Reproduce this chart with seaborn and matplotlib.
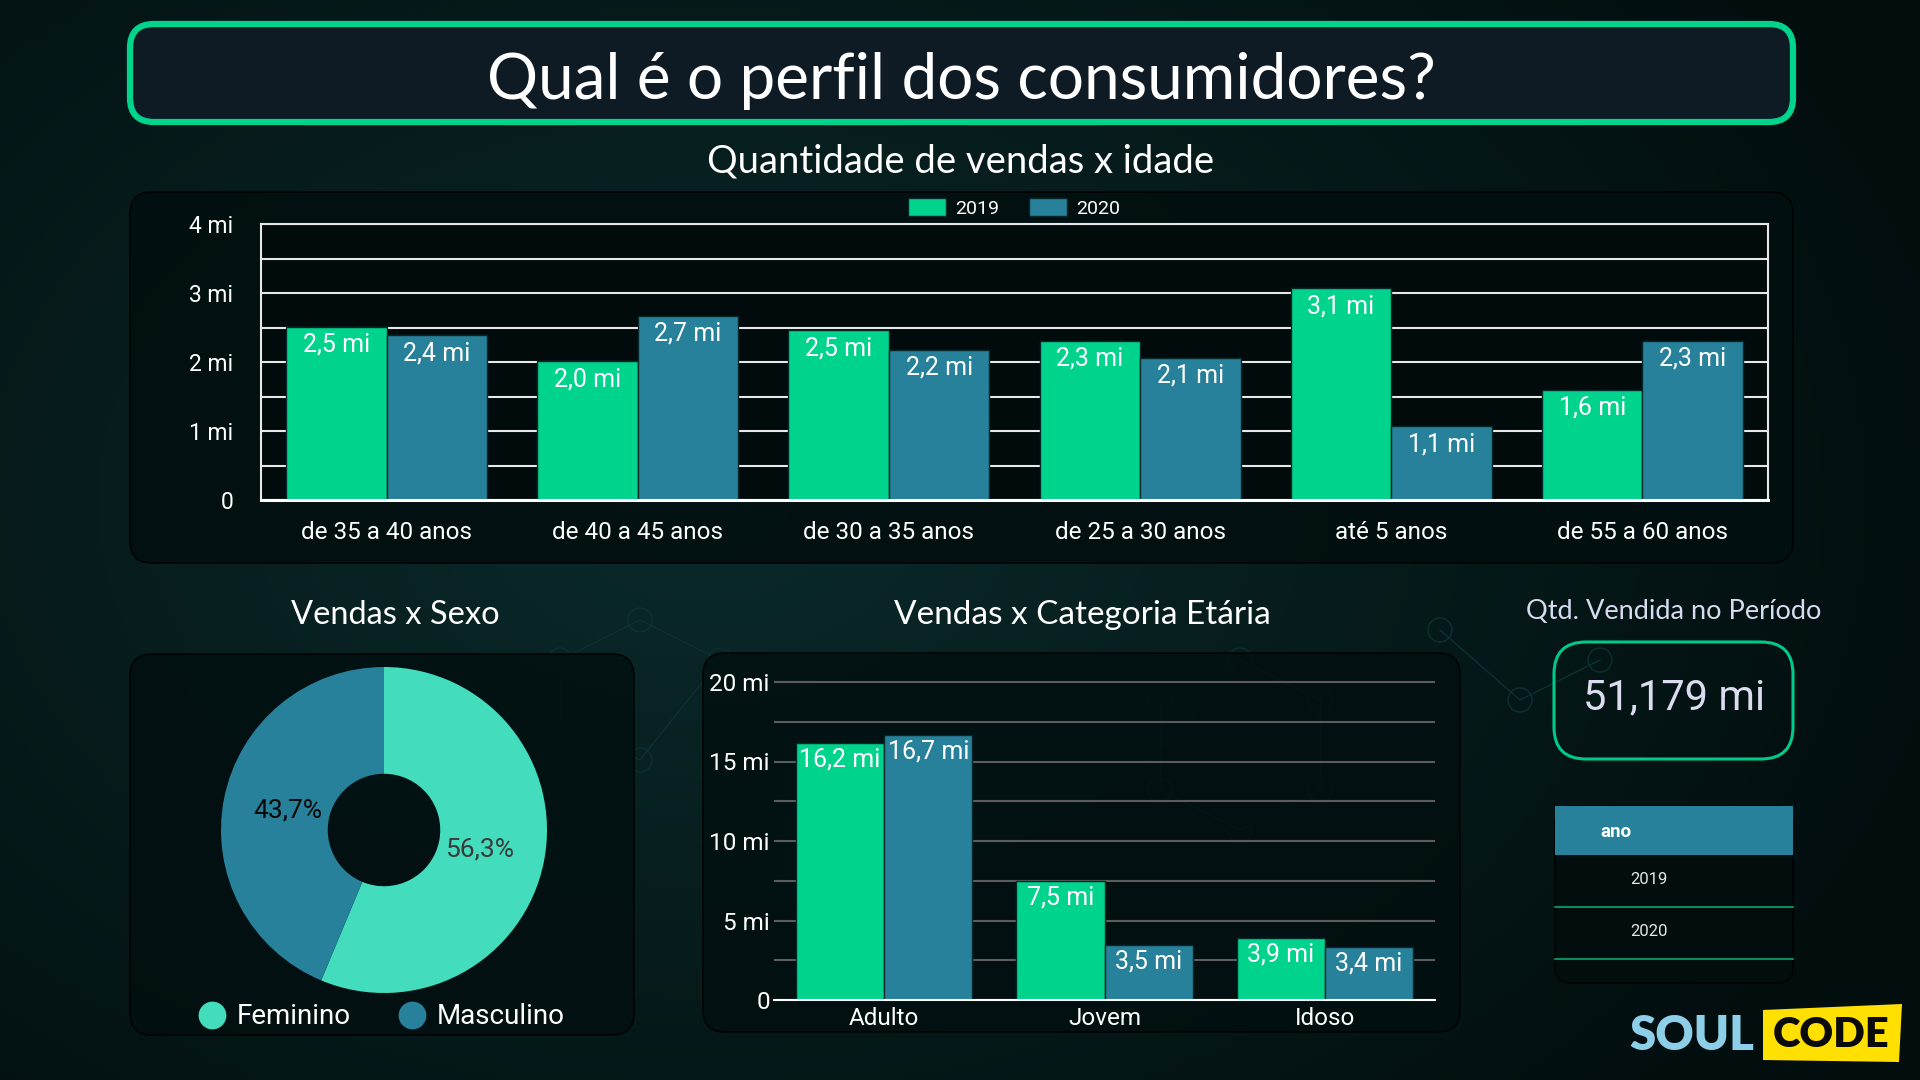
import numpy as np
import pandas as pd
import matplotlib
matplotlib.use("Agg")
import matplotlib.pyplot as plt
import seaborn as sns
from matplotlib.patches import FancyBboxPatch, Rectangle, Polygon
from matplotlib.lines import Line2D
from matplotlib.ticker import MultipleLocator, FixedLocator

# ---------------- data ----------------
anos = ["2019", "2020"]
faixas = ["de 35 a 40 anos", "de 40 a 45 anos", "de 30 a 35 anos",
          "de 25 a 30 anos", "até 5 anos", "de 55 a 60 anos"]
vendas_faixa_2019 = [2.51, 2.01, 2.46, 2.31, 3.07, 1.60]
vendas_faixa_2020 = [2.39, 2.67, 2.18, 2.06, 1.07, 2.31]
top_yticks = [0, 1, 2, 3, 4]

sexos = ["Feminino", "Masculino"]
pct_sexo = [56.3, 43.7]

categorias = ["Adulto", "Jovem", "Idoso"]
vendas_cat_2019 = [16.17, 7.51, 3.89]
vendas_cat_2020 = [16.66, 3.46, 3.36]
bottom_yticks = [0, 5, 10, 15, 20]

total_vendido = "51,179 mi"
tabela_header = "ano"
tabela_anos = ["2019", "2020"]

titulo = "Qual é o perfil dos consumidores?"
sub_top = "Quantidade de vendas x idade"
sub_pie = "Vendas x Sexo"
sub_cat = "Vendas x Categoria Etária"
sub_kpi = "Qtd. Vendida no Período"

# ---------------- style ----------------
GREEN = "#00d38b"
BLUE = "#27819b"
PIE_GREEN = "#43dcbc"
W, H = 1920, 1080

sns.set_theme(style="dark")
plt.rcParams["font.family"] = ["Roboto", "DejaVu Sans"]
plt.rcParams["axes.unicode_minus"] = False


def fmt_mi(v):
    return f"{v:.1f}".replace(".", ",") + " mi"


def fmt_tick(v):
    return "0" if v == 0 else f"{v:g} mi"


fig = plt.figure(figsize=(19.2, 10.8), dpi=100)
fig.patch.set_facecolor("#041616")

# background axes in pixel coordinates
bg = fig.add_axes([0, 0, 1, 1], zorder=-10)
bg.set_xlim(0, W)
bg.set_ylim(H, 0)
bg.axis("off")
yy, xx = np.mgrid[0:H:4, 0:W:4]
d = np.sqrt(((xx - 700) / 1300.0) ** 2 + ((yy - 500) / 900.0) ** 2)
d = np.clip(d, 0, 1)[..., None]
c_in = np.array([0x0b, 0x2a, 0x2a]) / 255.0
c_out = np.array([0x02, 0x0d, 0x0e]) / 255.0
img = c_in * (1 - d) + c_out * d
bg.imshow(img, extent=(0, W, H, 0), aspect="auto", zorder=0)

# faint network decoration
net_pts = [(560, 660), (640, 620), (720, 660), (640, 760), (560, 720),
           (1160, 700), (1240, 660), (1320, 700), (1320, 790), (1240, 830), (1160, 790),
           (1440, 630), (1520, 700), (1600, 660)]
segs = [(0, 1), (1, 2), (2, 3), (3, 4), (4, 0), (5, 6), (6, 7), (7, 8), (8, 9), (9, 10), (10, 5),
        (11, 12), (12, 13)]
for a, b in segs:
    bg.plot([net_pts[a][0], net_pts[b][0]], [net_pts[a][1], net_pts[b][1]],
            color="#0c3030", lw=1.0, zorder=1)
for p in net_pts:
    bg.add_patch(plt.Circle(p, 12, fill=False, ec="#0c3030", lw=1.0, zorder=1))


def panel(x0, y0, x1, y1, fc, ec, lw=1.0, r=20, z=2, alpha=1.0):
    bg.add_patch(FancyBboxPatch((x0, y0), x1 - x0, y1 - y0,
                                boxstyle=f"round,pad=0,rounding_size={r}",
                                fc=fc, ec=ec, lw=lw, zorder=z, alpha=alpha))


LATO = ["Lato", "DejaVu Sans"]

# title box
panel(130, 24, 1793, 122, "#0f1b24", GREEN, lw=4.5, r=24, z=3)
bg.text(961, 99, titulo, ha="center", va="baseline", fontsize=46,
        family=LATO, color="white", zorder=4)

# subtitles
bg.text(961, 173, sub_top, ha="center", va="baseline", fontsize=27.5,
        family=LATO, color="white", zorder=4)
bg.text(395, 624, sub_pie, ha="center", va="baseline", fontsize=23.5,
        family=LATO, color="white", zorder=4)
bg.text(1082, 624, sub_cat, ha="center", va="baseline", fontsize=24,
        family=LATO, color="white", zorder=4)
bg.text(1674, 619, sub_kpi, ha="center", va="baseline", fontsize=19.5,
        family=LATO, color="#d8dbef", zorder=4)

# panels
panel(130, 192, 1793, 563, "#020f10", "#000000", lw=1.2, r=22, alpha=0.92)
panel(130, 654, 634, 1035, "#020f10", "#000000", lw=1.2, r=22, alpha=0.85)
panel(703, 653, 1460, 1032, "#020f10", "#000000", lw=1.2, r=22, alpha=0.85)

# KPI box
panel(1554, 642, 1793, 759, "none", "#00c98a", lw=2.2, r=32, z=3)
bg.text(1674, 709, total_vendido, ha="center", va="baseline", fontsize=30,
        color="#dcdcf0", zorder=4)

# table
panel(1555, 806, 1793, 983, "#020d0e", "#000000", lw=1.0, r=16, z=3)
bg.add_patch(Rectangle((1555, 806), 238, 49, fc=BLUE, ec="none", zorder=4))
bg.text(1616, 832, tabela_header, ha="center", va="center", fontsize=13.5,
        fontweight="bold", color="white", zorder=5)
row_y = [880, 932]
line_y = [907, 959]
for t, ry, ly in zip(tabela_anos, row_y, line_y):
    bg.text(1649, ry, t, ha="center", va="center", fontsize=12, color="#e6e6e6", zorder=5)
    bg.plot([1555, 1793], [ly, ly], color="#0b8a5c", lw=1.5, zorder=5)

# logo
bg.text(1692, 1036, "SOUL", ha="center", va="center", fontsize=34, fontweight="heavy",
        family=LATO, color="#8dcfe8", zorder=5)
bg.add_patch(Polygon([(1763, 1010), (1902, 1004), (1899, 1062), (1763, 1060)],
                     closed=True, fc="#ffe000", ec="none", zorder=5))
bg.text(1831, 1035, "CODE", ha="center", va="center", fontsize=30, fontweight="heavy",
        family=LATO, color="#0a0a0a", zorder=6)

# ---------------- top bar chart ----------------
x0, x1, ytop, ybot = 261, 1768, 224, 500
ax1 = fig.add_axes([x0 / W, 1 - ybot / H, (x1 - x0) / W, (ybot - ytop) / H], zorder=5)
df_top = pd.DataFrame({
    "faixa": faixas * 2,
    "ano": [anos[0]] * len(faixas) + [anos[1]] * len(faixas),
    "vendas": vendas_faixa_2019 + vendas_faixa_2020,
})
sns.barplot(data=df_top, x="faixa", y="vendas", hue="ano", order=faixas, hue_order=anos,
            palette=[GREEN, BLUE], saturation=1, errorbar=None, width=0.8,
            edgecolor="#06282a", linewidth=1, ax=ax1)
handles, labels = ax1.get_legend_handles_labels()
if ax1.get_legend() is not None:
    ax1.get_legend().remove()
ax1.set_facecolor("#010b0c")
ax1.set_xlim(-0.5, len(faixas) - 0.5)
ax1.set_ylim(0, 4)
ax1.yaxis.set_major_locator(FixedLocator(top_yticks))
ax1.set_yticklabels([fmt_tick(v) for v in top_yticks])
ax1.yaxis.set_minor_locator(MultipleLocator(0.5))
ax1.set_axisbelow(True)
ax1.grid(True, axis="y", which="both", color="#e8e8e8", lw=1.5)
ax1.grid(False, axis="x")
ax1.set_xlabel("")
ax1.set_ylabel("")
ax1.tick_params(axis="both", which="both", length=0, colors="white", labelsize=16.5)
ax1.tick_params(axis="y", pad=20)
ax1.tick_params(axis="x", pad=15, labelsize=17.5)
for s in ["left", "top", "right"]:
    ax1.spines[s].set_visible(True)
    ax1.spines[s].set_color("#e8e8e8")
    ax1.spines[s].set_linewidth(1.5)
ax1.spines["bottom"].set_color("white")
ax1.spines["bottom"].set_linewidth(2.2)
for cont in ax1.containers:
    for bar in cont:
        h = bar.get_height()
        ax1.annotate(fmt_mi(h), (bar.get_x() + bar.get_width() / 2, h), xytext=(0, -13),
                     textcoords="offset points", ha="center", va="center",
                     color="white", fontsize=18)

fig.legend(handles, labels, loc="center", bbox_to_anchor=(1014 / W, 1 - 208 / H), ncol=2,
           frameon=False, handlelength=2.0, handleheight=1.0, handletextpad=0.46,
           columnspacing=1.5, borderpad=0, fontsize=14, labelcolor="white")

# ---------------- donut ----------------
cx, cy, R, half = 384, 830, 163, 175
ax2 = fig.add_axes([(cx - half) / W, 1 - (cy + half) / H, 2 * half / W, 2 * half / H], zorder=5)
wedges, texts, autotexts = ax2.pie(
    pct_sexo, colors=[PIE_GREEN, BLUE], startangle=90, counterclock=False,
    wedgeprops=dict(width=0.655, linewidth=0),
    autopct=lambda p: f"{p:.1f}%".replace(".", ","), pctdistance=0.6,
    textprops=dict(fontsize=19))
for t, c in zip(autotexts, ["#3a3a3a", "#080808"]):
    t.set_color(c)
ax2.set_aspect("equal")
ax2.set_xlim(-half / R, half / R)
ax2.set_ylim(-half / R, half / R)
ax2.axis("off")
leg_handles = [Line2D([0], [0], marker="o", linestyle="none", markersize=20,
                      markerfacecolor=c, markeredgecolor="none") for c in [PIE_GREEN, BLUE]]
fig.legend(leg_handles, sexos, loc="center left", bbox_to_anchor=(198 / W, 1 - 1017 / H),
           ncol=2, frameon=False, handlelength=1.0, handletextpad=0.4, columnspacing=1.7,
           borderpad=0, borderaxespad=0, fontsize=20, labelcolor="white")

# ---------------- bottom bar chart ----------------
bx0, bx1, b0 = 774, 1435, 1000
ppu = (1000 - 682) / 20.0
ymax = 20.5
ax3 = fig.add_axes([bx0 / W, 1 - b0 / H, (bx1 - bx0) / W, ymax * ppu / H], zorder=5)
df_cat = pd.DataFrame({
    "categoria": categorias * 2,
    "ano": [anos[0]] * len(categorias) + [anos[1]] * len(categorias),
    "vendas": vendas_cat_2019 + vendas_cat_2020,
})
sns.barplot(data=df_cat, x="categoria", y="vendas", hue="ano", order=categorias,
            hue_order=anos, palette=[GREEN, BLUE], saturation=1, errorbar=None, width=0.8,
            edgecolor="#06282a", linewidth=1, ax=ax3, legend=False)
ax3.set_facecolor("none")
ax3.set_xlim(-0.5, len(categorias) - 0.5)
ax3.set_ylim(0, ymax)
ax3.yaxis.set_major_locator(FixedLocator(bottom_yticks))
ax3.set_yticklabels([fmt_tick(v) for v in bottom_yticks])
ax3.yaxis.set_minor_locator(MultipleLocator(2.5))
ax3.set_axisbelow(True)
ax3.grid(True, axis="y", which="both", color="#5c5c5c", lw=1.5)
ax3.grid(False, axis="x")
ax3.set_xlabel("")
ax3.set_ylabel("")
ax3.tick_params(axis="both", which="both", length=0, colors="white", labelsize=17.5)
ax3.tick_params(axis="y", pad=3)
ax3.tick_params(axis="x", pad=5, labelsize=17.5)
for s in ["left", "top", "right"]:
    ax3.spines[s].set_visible(False)
ax3.spines["bottom"].set_visible(True)
ax3.spines["bottom"].set_color("white")
ax3.spines["bottom"].set_linewidth(1.5)
for cont in ax3.containers:
    for bar in cont:
        h = bar.get_height()
        ax3.annotate(fmt_mi(h), (bar.get_x() + bar.get_width() / 2, h), xytext=(0, -12),
                     textcoords="offset points", ha="center", va="center",
                     color="white", fontsize=18)

fig.savefig("out.png", dpi=100, facecolor=fig.get_facecolor())
